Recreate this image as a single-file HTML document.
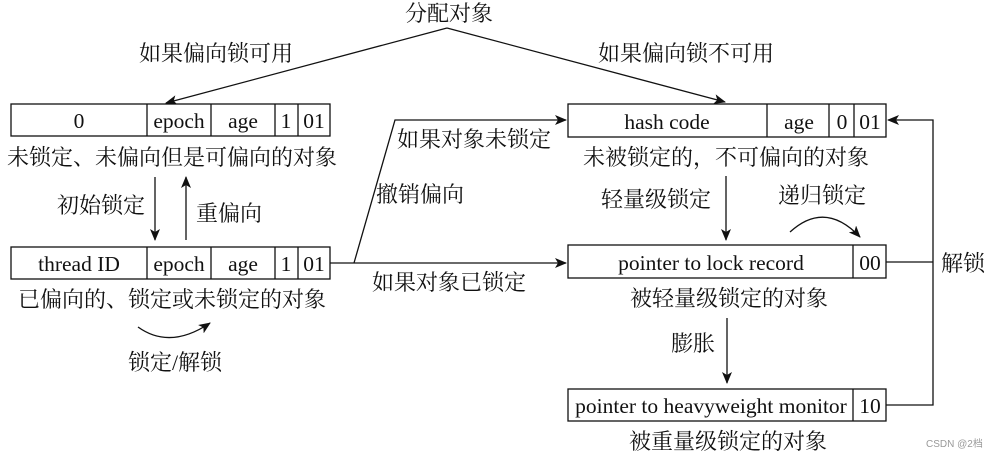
<!DOCTYPE html>
<html><head><meta charset="utf-8"><style>
html,body{margin:0;padding:0;background:#fff;}
svg{display:block}
text{font-family:"Liberation Serif","Noto Serif CJK SC",serif;fill:#111;}
.z text{font-size:22px;}
.e text{font-size:21.5px;}
</style></head><body>
<svg width="994" height="458" viewBox="0 0 994 458" xmlns="http://www.w3.org/2000/svg">
<defs><marker id="a" markerWidth="12" markerHeight="10" refX="11" refY="5" orient="auto" markerUnits="userSpaceOnUse"><path d="M0,0 L12,5 L0,10 L3,5 Z" fill="#111"/></marker></defs>
<g stroke="#111" stroke-width="1.3" fill="none">
<line x1="447" y1="28" x2="166" y2="103" marker-end="url(#a)"/>
<line x1="447" y1="28" x2="725" y2="102" marker-end="url(#a)"/>
<rect x="11" y="104" width="319" height="32" fill="#fff"/>
<line x1="147" y1="104" x2="147" y2="136"/><line x1="211" y1="104" x2="211" y2="136"/><line x1="275" y1="104" x2="275" y2="136"/><line x1="298" y1="104" x2="298" y2="136"/>
<rect x="11" y="247" width="319" height="32" fill="#fff"/>
<line x1="147" y1="247" x2="147" y2="279"/><line x1="211" y1="247" x2="211" y2="279"/><line x1="275" y1="247" x2="275" y2="279"/><line x1="298" y1="247" x2="298" y2="279"/>
<line x1="155" y1="177" x2="155" y2="240" marker-end="url(#a)"/>
<line x1="186" y1="240" x2="186" y2="177" marker-end="url(#a)"/>
<path d="M138,327 Q170,350 210,323" marker-end="url(#a)"/>
<line x1="330" y1="263" x2="566" y2="263" marker-end="url(#a)"/>
<polyline points="354,263 395,120 566,120" marker-end="url(#a)"/>
<rect x="568" y="104" width="318" height="33" fill="#fff"/>
<line x1="767" y1="104" x2="767" y2="137"/><line x1="829" y1="104" x2="829" y2="137"/><line x1="854" y1="104" x2="854" y2="137"/>
<rect x="568" y="245" width="318" height="33" fill="#fff"/>
<line x1="853" y1="245" x2="853" y2="278"/>
<rect x="568" y="389" width="318" height="32" fill="#fff"/>
<line x1="853" y1="389" x2="853" y2="421"/>
<line x1="726" y1="176" x2="726" y2="240" marker-end="url(#a)"/>
<line x1="727" y1="318" x2="727" y2="383" marker-end="url(#a)"/>
<path d="M790,232 Q825,200 860,237" marker-end="url(#a)"/>
<polyline points="886,262 933,262"/>
<polyline points="886,405 933,405 933,120 888,120" marker-end="url(#a)"/>
</g>
<g class="z">
<text x="449" y="21" text-anchor="middle">分配对象</text>
<text x="216" y="61" text-anchor="middle">如果偏向锁可用</text>
<text x="686" y="61" text-anchor="middle">如果偏向锁不可用</text>
<text x="172" y="165" text-anchor="middle">未锁定、未偏向但是可偏向的对象</text>
<text x="101" y="213" text-anchor="middle">初始锁定</text>
<text x="229" y="221" text-anchor="middle">重偏向</text>
<text x="172" y="307" text-anchor="middle">已偏向的、锁定或未锁定的对象</text>
<text x="175" y="370" text-anchor="middle">锁定/解锁</text>
<text x="474" y="147" text-anchor="middle">如果对象未锁定</text>
<text x="420" y="202" text-anchor="middle">撤销偏向</text>
<text x="449" y="290" text-anchor="middle">如果对象已锁定</text>
<text x="726" y="165" text-anchor="middle">未被锁定的，不可偏向的对象</text>
<text x="656" y="207" text-anchor="middle">轻量级锁定</text>
<text x="822" y="203" text-anchor="middle">递归锁定</text>
<text x="729" y="306" text-anchor="middle">被轻量级锁定的对象</text>
<text x="693" y="351" text-anchor="middle">膨胀</text>
<text x="728" y="449" text-anchor="middle">被重量级锁定的对象</text>
<text x="963" y="271" text-anchor="middle">解锁</text>
</g>
<g class="e">
<text x="79" y="128" text-anchor="middle">0</text>
<text x="179" y="128" text-anchor="middle">epoch</text>
<text x="243" y="128" text-anchor="middle">age</text>
<text x="286" y="128" text-anchor="middle">1</text>
<text x="314" y="128" text-anchor="middle">01</text>
<text x="79" y="271" text-anchor="middle">thread ID</text>
<text x="179" y="271" text-anchor="middle">epoch</text>
<text x="243" y="271" text-anchor="middle">age</text>
<text x="286" y="271" text-anchor="middle">1</text>
<text x="314" y="271" text-anchor="middle">01</text>
<text x="667" y="129" text-anchor="middle">hash code</text>
<text x="799" y="129" text-anchor="middle">age</text>
<text x="842" y="129" text-anchor="middle">0</text>
<text x="870" y="129" text-anchor="middle">01</text>
<text x="711" y="270" text-anchor="middle">pointer to lock record</text>
<text x="870" y="270" text-anchor="middle">00</text>
<text x="711" y="413" text-anchor="middle">pointer to heavyweight monitor</text>
<text x="870" y="413" text-anchor="middle">10</text>
</g>
<text x="926" y="447" style="font-family:'Liberation Sans','Noto Sans CJK SC',sans-serif;font-size:10px;fill:#999">CSDN @2档</text>
</svg>
</body></html>
